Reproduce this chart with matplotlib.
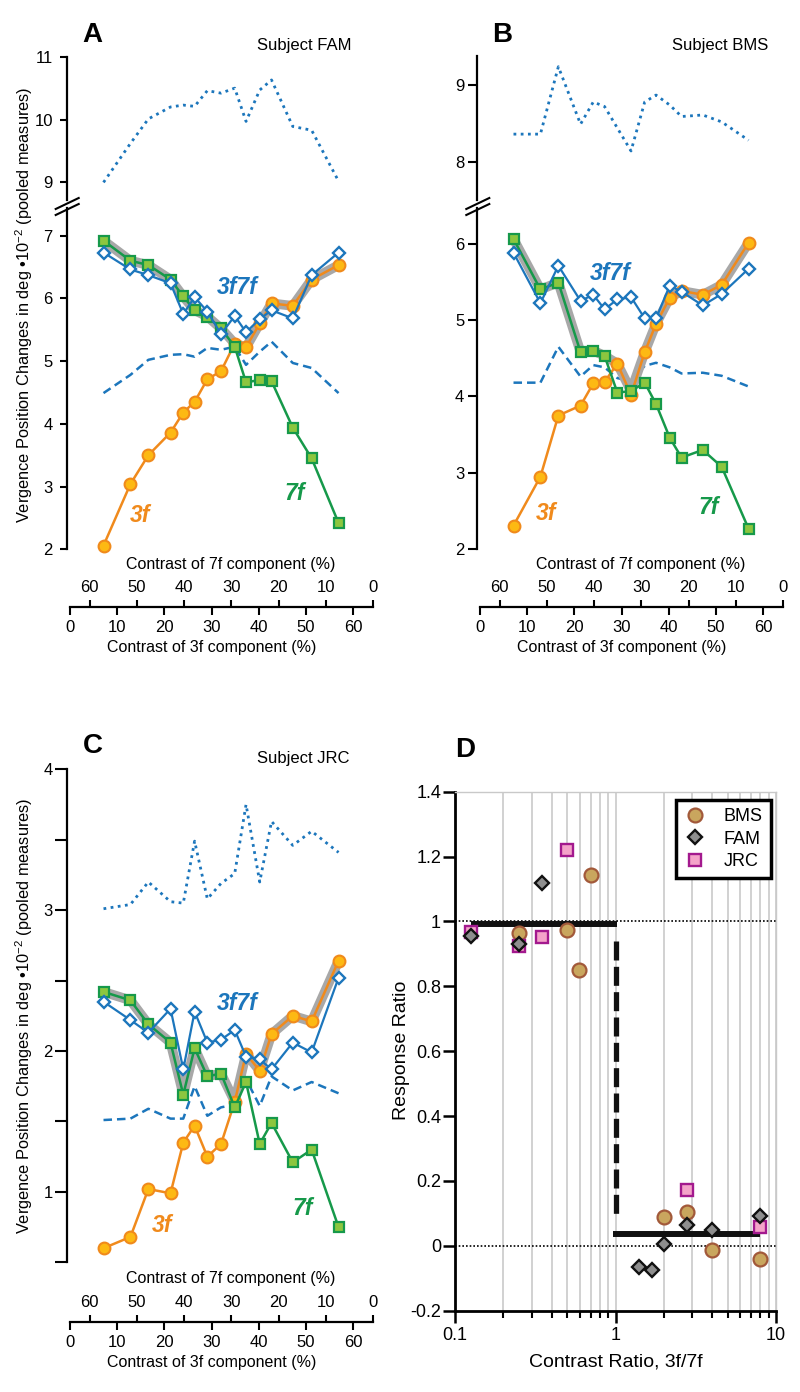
import numpy as np
import matplotlib
matplotlib.use("Agg")
import matplotlib.pyplot as plt
from matplotlib.lines import Line2D
from matplotlib.ticker import LogLocator, NullFormatter

plt.rcParams["font.family"] = ["Liberation Sans", "DejaVu Sans"]
plt.rcParams["mathtext.fontset"] = "custom"
plt.rcParams["mathtext.rm"] = "Liberation Sans"
plt.rcParams["mathtext.it"] = "Liberation Sans:italic"

W, H = 800, 1392

# ── data ────────────────────────────────────────────────────────
# contrast of the 3f component (%) for the 15 conditions; 3f + 7f = TOTAL
contrast_3f = [7.1, 12.8, 16.6, 21.3, 24.0, 26.4, 29.1, 32.0, 34.9, 37.3, 40.2, 42.7, 47.2, 51.2, 56.9]
TOTAL = 64.2
x_ticks = [0, 10, 20, 30, 40, 50, 60]

# panel A, subject FAM
fam_3f = [2.06, 3.04, 3.50, 3.86, 4.18, 4.35, 4.71, 4.84, 5.28, 5.22, 5.60, 5.92, 5.88, 6.30, 6.53]
fam_7f = [6.92, 6.60, 6.53, 6.30, 6.03, 5.81, 5.71, 5.52, 5.23, 4.66, 4.70, 4.68, 3.94, 3.45, 2.42]
fam_3f7f = [6.73, 6.46, 6.37, 6.24, 5.75, 6.02, 5.79, 5.43, 5.72, 5.46, 5.67, 5.81, 5.68, 6.37, 6.73]
fam_dash = [4.49, 4.78, 5.02, 5.10, 5.11, 5.07, 5.21, 5.18, 5.23, 4.94, 5.15, 5.31, 4.97, 4.89, 4.49]
fam_dot = [9.00, 9.62, 10.01, 10.20, 10.23, 10.21, 10.46, 10.42, 10.50, 9.97, 10.47, 10.63, 9.89, 9.83, 9.02]

# panel B, subject BMS
bms_3f = [2.31, 2.95, 3.75, 3.88, 4.17, 4.19, 4.43, 4.02, 4.58, 4.95, 5.29, 5.38, 5.33, 5.46, 6.01]
bms_7f = [6.06, 5.40, 5.49, 4.58, 4.60, 4.53, 4.05, 4.07, 4.18, 3.90, 3.46, 3.20, 3.30, 3.08, 2.27]
bms_3f7f = [5.88, 5.22, 5.71, 5.25, 5.33, 5.14, 5.27, 5.30, 5.02, 5.02, 5.45, 5.37, 5.19, 5.34, 5.67]
bms_dash = [4.18, 4.18, 4.65, 4.26, 4.41, 4.38, 4.24, 4.20, 4.40, 4.44, 4.38, 4.30, 4.31, 4.27, 4.13]
bms_dot = [8.36, 8.36, 9.24, 8.49, 8.78, 8.72, 8.44, 8.14, 8.78, 8.87, 8.74, 8.59, 8.61, 8.52, 8.28]

# panel C, subject JRC
jrc_3f = [0.60, 0.68, 1.02, 0.99, 1.35, 1.47, 1.25, 1.34, 1.64, 1.98, 1.86, 2.12, 2.25, 2.21, 2.64]
jrc_7f = [2.42, 2.36, 2.19, 2.06, 1.69, 2.02, 1.82, 1.84, 1.60, 1.78, 1.34, 1.49, 1.21, 1.30, 0.75]
jrc_3f7f = [2.35, 2.22, 2.13, 2.30, 1.87, 2.28, 2.06, 2.08, 2.15, 1.96, 1.94, 1.87, 2.06, 1.99, 2.52]
jrc_dash = [1.51, 1.52, 1.59, 1.52, 1.52, 1.75, 1.54, 1.60, 1.62, 1.80, 1.61, 1.82, 1.72, 1.78, 1.70]
jrc_dot = [3.01, 3.04, 3.20, 3.06, 3.05, 3.49, 3.08, 3.19, 3.26, 3.75, 3.20, 3.63, 3.46, 3.56, 3.41]

# panel D, response ratio vs contrast ratio 3f/7f
d_bms_x = [0.25, 0.5, 0.59, 0.7, 2.0, 2.8, 4.0, 8.0]
d_bms_y = [0.964, 0.974, 0.849, 1.144, 0.089, 0.105, -0.013, -0.040]
d_fam_x = [0.125, 0.25, 0.35, 1.4, 1.7, 2.0, 2.8, 4.0, 8.0]
d_fam_y = [0.954, 0.931, 1.119, -0.065, -0.073, 0.005, 0.064, 0.050, 0.092]
d_jrc_x = [0.125, 0.25, 0.35, 0.5, 2.8, 8.0]
d_jrc_y = [0.969, 0.923, 0.952, 1.221, 0.173, 0.058]
step_hi_x, step_hi_y = [0.125, 1.02], [0.992, 0.992]
step_lo_x, step_lo_y = [0.97, 7.9], [0.036, 0.036]
step_v_x, step_v_y = [1.0, 1.0], [0.94, 0.09]
d_yticks = [-0.2, 0, 0.2, 0.4, 0.6, 0.8, 1.0, 1.2, 1.4]
d_ylabels = ["-0.2", "0", "0.2", "0.4", "0.6", "0.8", "1", "1.2", "1.4"]

ORANGE, YELLOW = "#F08A1C", "#FDB913"
GREEN, LGREEN = "#16994A", "#8CC63F"
BLUE = "#1C76BC"
GRAY = "#A8A8A8"
AX_W = 306.3
YLAB = "Vergence Position Changes in deg •10$^{-2}$ (pooled measures)"

fig = plt.figure(figsize=(8, 13.92), dpi=100)


def px_rect(x0, top, bot):
    return [x0 / W, 1 - bot / H, AX_W / W, (bot - top) / H]


def data_axes(x0, top, bot, ylim, ticks, tlen, tpad):
    ax = fig.add_axes(px_rect(x0, top, bot))
    ax.set_xlim(-0.7, TOTAL)
    ax.set_ylim(*ylim)
    ax.patch.set_visible(False)
    for s in ("top", "right", "bottom"):
        ax.spines[s].set_visible(False)
    ax.spines["left"].set_linewidth(1.6)
    ax.set_xticks([])
    ax.set_yticks(ticks)
    ax.set_yticklabels([str(t) for t in ticks])
    ax.tick_params(axis="y", direction="out", length=tlen, width=1.5, pad=tpad, labelsize=12)
    return ax


def draw_curves(ax, s3, s7, s37, dash):
    x = contrast_3f
    # grey band = larger of the two single-component responses
    ax.plot(x, np.maximum(s3, s7), color=GRAY, lw=7, solid_joinstyle="round",
            solid_capstyle="round", zorder=1)
    ax.plot(x, dash, color=BLUE, lw=1.8, dashes=(3.4, 2.0), zorder=0.5)
    ax.plot(x, s3, "-o", color=ORANGE, mfc=YELLOW, mec=ORANGE, ms=8.5, mew=1.5,
            lw=1.8, zorder=3, clip_on=False)
    ax.plot(x, s7, "-s", color=GREEN, mfc=LGREEN, mec=GREEN, ms=7.5, mew=1.6,
            lw=1.8, zorder=4, clip_on=False)
    ax.plot(x, s37, "-D", color=BLUE, mfc="white", mec=BLUE, ms=6.3, mew=1.7,
            lw=1.6, zorder=5, clip_on=False)


def draw_dot(ax, dot):
    ax.plot(contrast_3f, dot, color=BLUE, lw=2.0, ls=(0, (1, 1.6)), zorder=2)


def contrast_axis(x0, ypx, t7, t3):
    rect = [x0 / W, 1 - ypx / H, AX_W / W, 0.0001]
    ax3 = fig.add_axes(rect)
    ax3.set_xlim(-0.7, TOTAL)
    ax3.patch.set_visible(False)
    for s in ("left", "right", "top"):
        ax3.spines[s].set_visible(False)
    ax3.spines["bottom"].set_bounds(0, TOTAL)
    ax3.spines["bottom"].set_linewidth(1.6)
    ax3.set_yticks([])
    ax3.set_xticks(x_ticks)
    ax3.tick_params(axis="x", direction="out", length=6, width=1.5, pad=3.5, labelsize=12)

    ax7 = fig.add_axes(rect)
    ax7.set_xlim(TOTAL + 0.7, 0)
    ax7.patch.set_visible(False)
    for s in ax7.spines.values():
        s.set_visible(False)
    ax7.set_yticks([])
    ax7.set_xticks(x_ticks)
    ax7.tick_params(axis="x", top=True, labeltop=True, bottom=False, labelbottom=False,
                    direction="out", length=5, width=1.5, pad=3.5, labelsize=12)

    fig.text(t7[0] / W, 1 - t7[1] / H, "Contrast of 7f component (%)",
             ha="center", va="center", fontsize=11.5)
    fig.text(t3[0] / W, 1 - t3[1] / H, "Contrast of 3f component (%)",
             ha="center", va="center", fontsize=11.5)


def break_marks(xs):
    for dy in (0, 6):
        fig.add_artist(Line2D([(xs - 11) / W, (xs + 12) / W],
                              [1 - (209 + dy) / H, 1 - (198 + dy) / H],
                              color="k", lw=1.5))


def series_labels(pos3f7f, pos3f, pos7f):
    kw = dict(fontsize=16.5, fontweight="bold", fontstyle="italic", ha="center", va="baseline")
    fig.text(pos3f7f[0] / W, 1 - pos3f7f[1] / H, "3f7f", color=BLUE, **kw)
    fig.text(pos3f[0] / W, 1 - pos3f[1] / H, "3f", color=ORANGE, **kw)
    fig.text(pos7f[0] / W, 1 - pos7f[1] / H, "7f", color=GREEN, **kw)


def panel_title(letter, lx, ly, subject, sx, sy):
    fig.text(lx / W, 1 - ly / H, letter, fontsize=20, fontweight="bold", ha="center", va="baseline")
    fig.text(sx / W, 1 - sy / H, subject, fontsize=12, ha="right", va="baseline")


# ── Panel A ─────────────────────────────────────────────────────
axA_up = data_axes(66.7, 56.7, 200, (8.72, 11.0), [9, 10, 11], 5, 5)
axA_lo = data_axes(66.7, 208, 549.3, (2.0, 7.44), [2, 3, 4, 5, 6, 7], 5, 5)
draw_dot(axA_up, fam_dot)
draw_curves(axA_lo, fam_3f, fam_7f, fam_3f7f, fam_dash)
break_marks(66.7)
contrast_axis(66.7, 607, (230.5, 564), (211.7, 648))
series_labels((237, 294), (140, 521.7), (295, 499.7))
panel_title("A", 92.5, 41.7, "Subject FAM", 351.7, 50)
fig.text(24 / W, 1 - 305 / H, YLAB, rotation=90, ha="center", va="center", fontsize=11.8)

# ── Panel B ─────────────────────────────────────────────────────
axB_up = data_axes(476.7, 56, 200, (7.50, 9.38), [8, 9], 6.5, 2.5)
axB_lo = data_axes(476.7, 208, 549.3, (2.0, 6.465), [2, 3, 4, 5, 6], 6.5, 2.5)
draw_dot(axB_up, bms_dot)
draw_curves(axB_lo, bms_3f, bms_7f, bms_3f7f, bms_dash)
break_marks(477.3)
contrast_axis(476.7, 606.7, (641, 564), (622, 648))
series_labels((610, 280), (545.8, 520), (709, 514.3))
panel_title("B", 502.5, 42, "Subject BMS", 768.3, 50)

# ── Panel C ─────────────────────────────────────────────────────
axC = data_axes(66.7, 769.3, 1262.3, (0.5, 4.0), [1, 2, 3, 4], 8.4, 1.5)
axC.set_yticks([0.5, 1.5, 2.5, 3.5], minor=True)
axC.tick_params(axis="y", which="minor", direction="out", length=8.4, width=1.5)
draw_dot(axC, jrc_dot)
draw_curves(axC, jrc_3f, jrc_7f, jrc_3f7f, jrc_dash)
contrast_axis(66.7, 1321.7, (231, 1278.3), (212, 1363))
series_labels((236.7, 1010), (161.7, 1231.7), (303, 1215))
panel_title("C", 92.5, 753, "Subject JRC", 349.3, 763.3)
fig.text(24 / W, 1 - 1016 / H, YLAB, rotation=90, ha="center", va="center", fontsize=11.8)

# ── Panel D ─────────────────────────────────────────────────────
axD = fig.add_axes([455 / W, 1 - 1310.7 / H, (776 - 455) / W, (1310.7 - 791.7) / H])
axD.set_xscale("log")
axD.set_xlim(0.1, 10)
axD.set_ylim(-0.2, 1.4)
axD.xaxis.set_minor_locator(LogLocator(base=10, subs=np.arange(2, 10)))
axD.xaxis.set_minor_formatter(NullFormatter())
axD.set_xticks([0.1, 1, 10])
axD.set_xticklabels(["0.1", "1", "10"])
axD.set_yticks(d_yticks)
axD.set_yticklabels(d_ylabels)
axD.grid(True, which="both", axis="x", color="#C9C9C9", lw=1.2, zorder=0)
axD.set_axisbelow(True)
for s in ("top", "right"):
    axD.spines[s].set_color("#C9C9C9")
    axD.spines[s].set_linewidth(1.0)
for s in ("left", "bottom"):
    axD.spines[s].set_linewidth(2.0)
axD.tick_params(axis="both", which="major", direction="out", length=8.5, width=1.8,
                pad=1.5, labelsize=13)
axD.tick_params(axis="x", which="major", pad=3)
axD.tick_params(axis="x", which="minor", direction="out", length=5, width=1.5)
axD.axhline(1, color="k", lw=1.2, ls=(0, (1, 1.2)), zorder=1)
axD.axhline(0, color="k", lw=1.2, ls=(0, (1, 1.2)), zorder=1)
axD.plot(step_hi_x, step_hi_y, color="#111111", lw=4.3, solid_capstyle="butt", zorder=2)
axD.plot(step_lo_x, step_lo_y, color="#111111", lw=4.3, solid_capstyle="butt", zorder=2)
axD.plot(step_v_x, step_v_y, color="#111111", lw=3.8, dashes=(3.6, 1.2),
         dash_capstyle="butt", zorder=2)

bms_kw = dict(marker="o", ls="none", mfc="#C9A65E", mec="#A2593A", ms=10, mew=1.6)
jrc_kw = dict(marker="s", ls="none", mfc="#F4A3C9", mec="#A3198E", ms=9, mew=1.7)
fam_kw = dict(marker="D", ls="none", mfc="#8E8E8E", mec="#111111", ms=7, mew=1.7)
axD.plot(d_bms_x, d_bms_y, zorder=3, clip_on=False, **bms_kw)
axD.plot(d_jrc_x, d_jrc_y, zorder=4, clip_on=False, **jrc_kw)
axD.plot(d_fam_x, d_fam_y, zorder=5, clip_on=False, **fam_kw)

handles = [Line2D([], [], **bms_kw), Line2D([], [], **fam_kw), Line2D([], [], **jrc_kw)]
leg = axD.legend(handles, ["BMS", "FAM", "JRC"], loc="upper right",
                 bbox_to_anchor=(771 / W, 1 - 800 / H), bbox_transform=fig.transFigure,
                 borderaxespad=0, fancybox=False, framealpha=1, edgecolor="k",
                 fontsize=13, handletextpad=1.0, labelspacing=0.3, borderpad=0.45,
                 handlelength=1.2)
leg.get_frame().set_linewidth(2.5)

fig.text(402 / W, 1 - 1050 / H, "Response Ratio", rotation=90, ha="center", va="center", fontsize=14)
fig.text(616 / W, 1 - 1362 / H, "Contrast Ratio, 3f/7f", ha="center", va="center", fontsize=14)
fig.text(465 / W, 1 - 756.7 / H, "D", fontsize=20, fontweight="bold", ha="center", va="baseline")

fig.savefig("out.png", dpi=100)
